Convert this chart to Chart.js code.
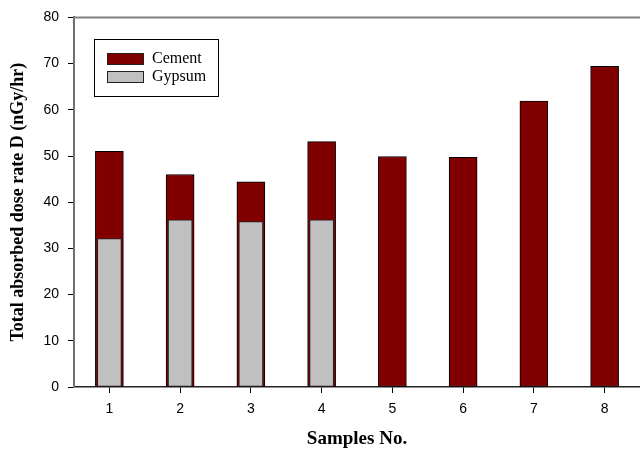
<!DOCTYPE html>
<html>
<head>
<meta charset="utf-8">
<script src="https://cdn.jsdelivr.net/npm/chart.js@4"></script>
<style>
  body { margin: 0; background: #fff; }
</style>
</head>
<body>
<canvas id="chart" width="640" height="450"></canvas>
<script>
var samples = ['1', '2', '3', '4', '5', '6', '7', '8'];
var cement = [51.0, 46.0, 44.4, 53.1, 49.9, 49.7, 61.9, 69.4];
var gypsum = [32.1, 36.2, 35.8, 36.2, null, null, null, null];
var yTicks = [0, 10, 20, 30, 40, 50, 60, 70, 80];

// box legend inside the plot, top left
var boxLegend = {
    id: 'boxLegend',
    afterDraw: function(chart) {
        var ctx = chart.ctx;
        ctx.save();
        ctx.strokeStyle = '#000';
        ctx.lineWidth = 1;
        ctx.strokeRect(94.5, 39.5, 124, 57);
        ctx.font = '16px "Liberation Serif"';
        ctx.textBaseline = 'middle';
        chart.data.datasets.forEach(function(ds, i) {
            var y = 53 + i * 18;
            ctx.fillStyle = ds.backgroundColor;
            ctx.fillRect(107, y, 37, 11);
            ctx.strokeStyle = '#222';
            ctx.strokeRect(107.5, y + 0.5, 36, 11);
            ctx.fillStyle = '#000';
            ctx.fillText(ds.label, 152, y + 6);
        });
        ctx.restore();
    }
};

// gray frame line on top of the plot
var topLine = {
    id: 'topLine',
    afterDraw: function(chart) {
        var a = chart.chartArea;
        var ctx = chart.ctx;
        ctx.save();
        ctx.strokeStyle = '#808080';
        ctx.lineWidth = 2;
        ctx.beginPath();
        ctx.moveTo(a.left, a.top);
        ctx.lineTo(a.right, a.top);
        ctx.stroke();
        ctx.restore();
    }
};

var ctx = document.getElementById('chart').getContext('2d');
var myChart = new Chart(ctx, {
    type: 'bar',
    data: {
        labels: samples,
        datasets: [
            {
                label: 'Cement',
                data: cement,
                backgroundColor: '#800000',
                borderColor: '#000',
                borderWidth: 1,
                borderSkipped: false,
                barThickness: 28,
                grouped: false,
                order: 1
            },
            {
                label: 'Gypsum',
                data: gypsum,
                backgroundColor: '#c0c0c0',
                borderColor: '#222',
                borderWidth: 1,
                borderSkipped: false,
                barThickness: 24,
                grouped: false,
                order: 0
            }
        ]
    },
    options: {
        responsive: false,
        animation: false,
        layout: { padding: { top: 15, right: 0, left: 0, bottom: 0 } },
        plugins: {
            legend: { display: false },
            tooltip: { enabled: false }
        },
        scales: {
            x: {
                grid: { offset: false, drawOnChartArea: false, drawTicks: true, tickLength: 6, color: '#000' },
                border: { color: '#222', width: 1.5 },
                ticks: { color: '#000', padding: 8, font: { family: 'Liberation Sans', size: 14 } },
                title: {
                    display: true,
                    text: 'Samples No.',
                    color: '#000',
                    font: { family: 'Liberation Serif', size: 19, weight: 'bold', lineHeight: 1 },
                    padding: { top: 0, bottom: 1 }
                },
                afterFit: function(scale) { scale.height = 63; }
            },
            y: {
                min: 0,
                max: 80,
                afterBuildTicks: function(scale) {
                    scale.ticks = yTicks.map(function(v) { return { value: v }; });
                },
                grid: { drawOnChartArea: false, drawTicks: true, tickLength: 6, color: '#000' },
                border: { color: '#707070', width: 2 },
                ticks: { color: '#000', padding: 9, font: { family: 'Liberation Sans', size: 14 } },
                title: {
                    display: true,
                    text: 'Total absorbed dose rate D (nGy/hr)',
                    color: '#000',
                    font: { family: 'Liberation Serif', size: 18, weight: 'bold', lineHeight: 1 },
                    padding: { top: 9, bottom: 0 }
                },
                afterFit: function(scale) { scale.width = 74; }
            }
        }
    },
    plugins: [boxLegend, topLine]
});
</script>
</body>
</html>
